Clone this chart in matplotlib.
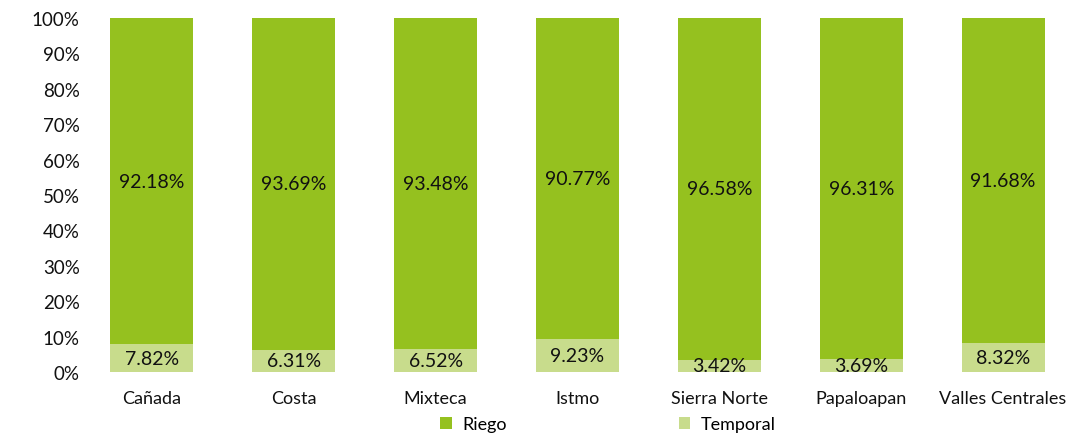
import matplotlib
matplotlib.use("Agg")
import matplotlib.pyplot as plt
from matplotlib.ticker import FuncFormatter, MultipleLocator

regions = ["Cañada", "Costa", "Mixteca", "Istmo", "Sierra Norte", "Papaloapan", "Valles Centrales"]
riego = [92.18, 93.69, 93.48, 90.77, 96.58, 96.31, 91.68]
temporal = [7.82, 6.31, 6.52, 9.23, 3.42, 3.69, 8.32]

c_riego = "#95C11F"
c_temp = "#C8DC8C"

plt.rcParams['font.family'] = ['Lato', 'DejaVu Sans']

W, H = 1073, 435
fig = plt.figure(figsize=(W/100, H/100), dpi=100)
ax = fig.add_axes([81/W, 62/H, (1074-81)/W, (373-19)/H])

x = list(range(len(regions)))
bw = 0.585
b1 = ax.bar(x, temporal, width=bw, color=c_temp, label="Temporal")
b2 = ax.bar(x, riego, width=bw, bottom=temporal, color=c_riego, label="Riego")

for i in x:
    ax.text(i, temporal[i]/2, f"{temporal[i]:.2f}%", ha="center", va="center", fontsize=14, color="#111111")
    ax.text(i, temporal[i] + riego[i]/2, f"{riego[i]:.2f}%", ha="center", va="center", fontsize=14, color="#111111")

ax.set_xlim(-0.5, len(regions)-0.5)
ax.set_ylim(0, 100)
ax.yaxis.set_major_locator(MultipleLocator(10))
ax.yaxis.set_major_formatter(FuncFormatter(lambda v, p: f"{v:.0f}%"))
ax.set_xticks(x)
ax.set_xticklabels(regions)
ax.tick_params(axis='both', length=0, labelsize=13.5, colors="#111111")
ax.tick_params(axis='x', pad=13, labelsize=13)
ax.tick_params(axis='y', pad=1)
for s in ax.spines.values():
    s.set_visible(False)

leg = fig.legend([b2, b1], ["Riego", "Temporal"], loc="center", bbox_to_anchor=(608/W, 1-425/H),
                 ncol=2, frameon=False, fontsize=13, handlelength=0.65, handleheight=0.65,
                 columnspacing=9.5, handletextpad=0.6)

fig.savefig("out.png", dpi=100)
